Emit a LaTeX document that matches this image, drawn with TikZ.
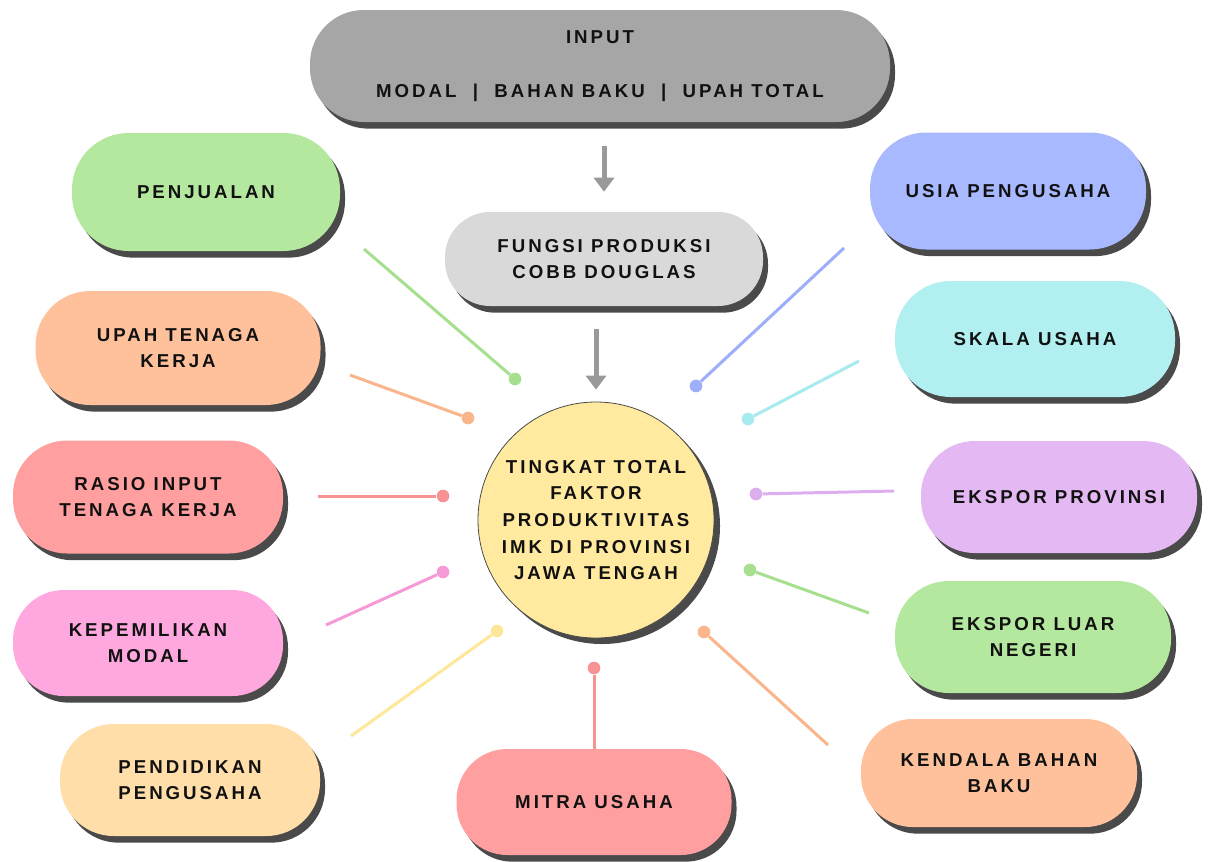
\documentclass[tikz,border=0pt]{standalone}
\usepackage{fontspec}
\newfontfamily\labfont[LetterSpace=16]{Liberation Sans}
\usetikzlibrary{arrows.meta,shadows}
\definecolor{shade}{HTML}{4A4A4A}
\definecolor{txt}{HTML}{111111}
\definecolor{cInput}{HTML}{A6A6A6}
\definecolor{cFungsi}{HTML}{D9D9D9}
\definecolor{cYel}{HTML}{FFEAA0}
\definecolor{cGreen}{HTML}{B4E89E}
\definecolor{cPeach}{HTML}{FFC19B}
\definecolor{cRed}{HTML}{FF9F9F}
\definecolor{cPink}{HTML}{FFA8DF}
\definecolor{cCream}{HTML}{FFDEAA}
\definecolor{cBlue}{HTML}{A9B9FF}
\definecolor{cCyan}{HTML}{B2EFF1}
\definecolor{cPurple}{HTML}{E4B8F3}
\definecolor{lGreen}{HTML}{A6E08E}
\definecolor{lPeach}{HTML}{FBB58C}
\definecolor{lRed}{HTML}{F79393}
\definecolor{lPink}{HTML}{F59AD6}
\definecolor{lYel}{HTML}{FFE79A}
\definecolor{lBlue}{HTML}{9DAEFA}
\definecolor{lCyan}{HTML}{A8EBEE}
\definecolor{lPurple}{HTML}{DDAEEE}
\definecolor{arrgray}{HTML}{999999}
\begin{document}
\begin{tikzpicture}[x=0.75pt,y=-0.75pt,
  lab/.style={font=\labfont\bfseries\fontsize{14}{20}\selectfont, text=txt, align=center},
  box/.style={lab, rectangle, inner sep=0pt,
    drop shadow={shadow xshift=3.75pt, shadow yshift=-5pt, fill=shade, opacity=1}},
  sz/.style 2 args={minimum width=#1*0.75pt, minimum height=#2*0.75pt, rounded corners=#2*0.36pt},
  dot/.style={circle, inner sep=0pt, minimum size=9.5pt, fill=#1},
  conn/.style={line width=2.25pt, draw=#1},
  arr/.style={draw=arrgray, line width=3.75pt, -{Triangle[width=15pt,length=10.5pt]}}
]
\useasboundingbox (0,0) rectangle (1212,861);
\fill[white] (0,0) rectangle (1212,861);

% top input and production function
\node[box, sz={580}{112}, fill=cInput] (input) at (600,66)
  {INPUT\\[20pt]MODAL\ \ |\ \ BAHAN BAKU\ \ |\ \ UPAH TOTAL};
\node[box, sz={318}{94}, fill=cFungsi] (fungsi) at (604,259)
  {FUNGSI PRODUKSI\\COBB DOUGLAS};

% centre
\node[lab, circle, inner sep=0pt, minimum size=236*0.75pt, fill=cYel, draw=shade, line width=0.6pt,
  drop shadow={shadow xshift=4.5pt, shadow yshift=-4.5pt, fill=shade, opacity=1}] (tfp) at (596,520)
  {TINGKAT TOTAL\\FAKTOR\\PRODUKTIVITAS\\IMK DI PROVINSI\\JAWA TENGAH};

\draw[arr, shorten <=18pt, shorten >=15pt] (input.south -| fungsi.north) -- (fungsi.north);
\draw[arr, shorten <=17pt, shorten >=9pt] (fungsi.south -| tfp.north) -- (tfp.north);

% left boxes
\node[box, sz={268}{118}, fill=cGreen] (pen) at (206,192) {PENJUALAN};
\node[box, sz={285}{114}, fill=cPeach] (upah) at (178,348) {UPAH TENAGA\\KERJA};
\node[box, sz={270}{113}, fill=cRed] (rasio) at (148,497) {RASIO INPUT\\TENAGA KERJA};
\node[box, sz={270}{106}, fill=cPink] (kep) at (148,643) {KEPEMILIKAN\\MODAL};
\node[box, sz={260}{112}, fill=cCream] (pend) at (190,780) {PENDIDIKAN\\PENGUSAHA};
\node[box, sz={275}{106}, fill=cRed] (mitra) at (594,802) {MITRA USAHA};

% right boxes
\node[box, sz={276}{117}, fill=cBlue] (usia) at (1008,191) {USIA PENGUSAHA};
\node[box, sz={280}{116}, fill=cCyan] (skala) at (1035,339) {SKALA USAHA};
\node[box, sz={276}{112}, fill=cPurple] (eprov) at (1059,497) {EKSPOR PROVINSI};
\node[box, sz={276}{112}, fill=cGreen] (eln) at (1033,637) {EKSPOR LUAR\\NEGERI};
\node[box, sz={276}{108}, fill=cPeach] (kend) at (999,773) {KENDALA BAHAN\\BAKU};

% connector ends
\coordinate (penE) at (364,249);
\coordinate (upahE) at (350,375);
\coordinate (rasioE) at (318,496);
\coordinate (kepE) at (326,625);
\coordinate (pendE) at (351,736);
\coordinate (kendE) at (828,745);
\coordinate (elnE) at (869,613);
\coordinate (eprovE) at (894,491);
\coordinate (skalaE) at (859,361);
\coordinate (usiaE) at (844,248);

\node[dot=lGreen] (penD) at (515,379) {};
\node[dot=lPeach] (upahD) at (468,418) {};
\node[dot=lRed] (rasioD) at (443,496) {};
\node[dot=lPink] (kepD) at (443,572) {};
\node[dot=lYel] (pendD) at (497,631) {};
\node[dot=lRed] (mitraD) at (594,668) {};
\node[dot=lPeach] (kendD) at (704,632) {};
\node[dot=lGreen] (elnD) at (750,570) {};
\node[dot=lPurple] (eprovD) at (756,494) {};
\node[dot=lCyan] (skalaD) at (748,419) {};
\node[dot=lBlue] (usiaD) at (696,386) {};

\draw[conn=lGreen] (penE) -- (penD);
\draw[conn=lPeach] (upahE) -- (upahD);
\draw[conn=lRed] (rasioE) -- (rasioD);
\draw[conn=lPink] (kepE) -- (kepD);
\draw[conn=lYel] (pendE) -- (pendD);
\draw[conn=lRed] (mitra.north) -- (mitraD);
\draw[conn=lPeach] (kendE) -- (kendD);
\draw[conn=lGreen] (elnE) -- (elnD);
\draw[conn=lPurple] (eprovE) -- (eprovD);
\draw[conn=lCyan] (skalaE) -- (skalaD);
\draw[conn=lBlue] (usiaE) -- (usiaD);
\end{tikzpicture}
\end{document}
